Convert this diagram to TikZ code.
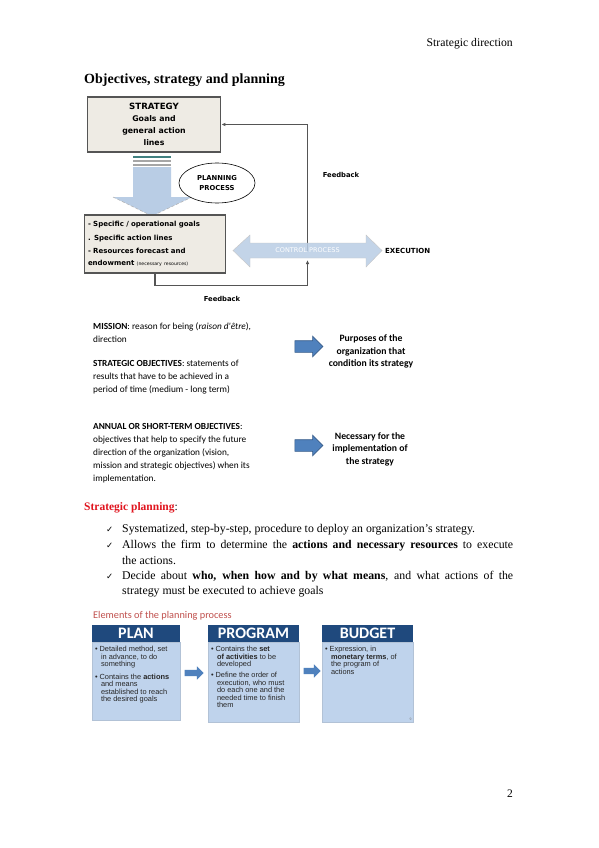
\documentclass[tikz,border=0pt]{standalone}
\usepackage{fontspec}
\setmainfont{Liberation Serif}
\newfontfamily\calibri{Carlito}
\newfontfamily\arial{Liberation Sans}
\newfontfamily\symb{DejaVu Sans}
\usetikzlibrary{arrows.meta,calc,positioning,shapes.geometric,shapes.arrows}

\definecolor{boxgray}{HTML}{EEEBE4}
\definecolor{edgegray}{HTML}{555555}
\definecolor{paleblue}{HTML}{B9CDE5}
\definecolor{midblue}{HTML}{4F81BD}
\definecolor{darkblue}{HTML}{385D8A}
\definecolor{hdrblue}{HTML}{1F497D}
\definecolor{bodyblue}{HTML}{BFD3EC}
\definecolor{elemred}{HTML}{C0504D}
\definecolor{titlered}{HTML}{E0141E}

\newcommand{\ind}{\hspace*{6pt}}

\tikzset{
  graybox/.style={draw=edgegray, line width=1.6pt, fill=boxgray},
  fback/.style={draw=edgegray, line width=1.2pt, -{Latex[length=4pt,width=3.5pt]}},
  fblabel/.style={font=\symb\bfseries\fontsize{6.8}{8}\selectfont},
  sidetext/.style={font=\calibri\fontsize{9.3}{13}\selectfont, align=left, inner sep=0pt},
  purpose/.style={font=\calibri\bfseries\fontsize{9.7}{12.5}\selectfont, align=center},
  bluearrow/.style={single arrow, draw=darkblue, fill=midblue, line width=0.6pt,
    inner sep=5.5pt, single arrow head extend=4.5pt, minimum height=28pt},
  blockarrow/.style={single arrow, fill=midblue, inner sep=3pt,
    single arrow head extend=3.5pt, minimum height=19pt},
  bodyline/.style={font=\fontsize{11.8}{15}\selectfont, anchor=base west, inner sep=0pt},
  tick/.style={font=\symb\fontsize{8.5}{10}\selectfont, anchor=base west, inner sep=0pt},
  hdr/.style={fill=hdrblue, text=white, font=\calibri\bfseries\fontsize{16}{16}\selectfont,
    minimum height=17pt, inner sep=0pt},
  bodybox/.style={fill=bodyblue, draw=bodyblue!80!gray, line width=0.4pt, anchor=north},
  bodytext/.style={font=\arial\fontsize{7.4}{7.5}\selectfont, align=left, inner sep=0pt,
    anchor=north west, text=black!85}
}

\begin{document}
\begin{tikzpicture}[x=1pt,y=-1pt]
\useasboundingbox (0,0) rectangle (599,848);
\fill[white] (0,0) rectangle (599,848);

% Running head and title
\node[anchor=base east, inner sep=0pt, font=\fontsize{11.7}{13}\selectfont] (head) at (513,47) {Strategic direction};
\node[anchor=base west, inner sep=0pt, font=\bfseries\fontsize{14}{16}\selectfont] (title) at (84,84) {Objectives, strategy and planning};

% Strategy box
\node[graybox, minimum width=133pt, minimum height=55pt, align=center,
  font=\symb\bfseries\fontsize{7.8}{12}\selectfont] (strategy) at (154,124.5)
  {{\fontsize{8.6}{12}\selectfont STRATEGY}\\Goals and\\general action\\lines};

% Planning arrow (down)
\draw[line width=1.3pt, color=teal!50!gray] (133,157) -- (171,157);
\draw[line width=1.3pt, color=gray!70] (133,161) -- (171,161);
\draw[line width=1.3pt, color=gray!70] (133,165) -- (171,165);
\fill[paleblue] (133,167) -- (171,167) -- (171,197) -- (192,197) -- (152,216)
  -- (113,197) -- (133,197) -- cycle;
\draw[densely dashed, color=gray!60, line width=0.5pt] (113,197) -- (152,216) -- (192,197);

% Planning process ellipse
\node[ellipse, draw, fill=white, line width=0.6pt, minimum width=76pt, minimum height=40pt,
  inner sep=0pt, align=center, font=\symb\bfseries\fontsize{6.8}{10}\selectfont] (planning)
  at (217,183) {PLANNING\\PROCESS};

% Operational box
\node[graybox, minimum width=138pt, minimum height=58pt, text width=134pt, align=left,
  font=\symb\bfseries\fontsize{7}{12.5}\selectfont] (operational) at (155,244)
  {- Specific / operational goals\\[1.5pt]
   . Specific action lines\\[0.5pt]
   - Resources forecast and\\
   endowment {\mdseries\fontsize{4.6}{6}\selectfont (necessary resources)}};

% Control process
\coordinate (control) at (307.5,250.5);
\draw[fback] (control) |- (strategy.east);
\draw[fback] (operational.south) -- ++(0,12) -| ($(control)+(0,9.5)$);
\fill[paleblue, fill opacity=0.85] (233,250.5) -- (250,235) -- (250,243) -- (366,243)
  -- (366,235) -- (382,250.5) -- (366,267) -- (366,258) -- (250,258) -- (250,267) -- cycle;
\draw[gray!45, line width=0.4pt] (233,250.5) -- (250,235) -- (250,243) -- (366,243)
  -- (366,235) -- (382,250.5) -- (366,267) -- (366,258) -- (250,258) -- (250,267) -- cycle;
\node[text=white, font=\symb\fontsize{6.5}{7}\selectfont] (ctext) at (control) {CONTROL PROCESS};
\node[anchor=west, inner sep=0pt, font=\symb\bfseries\fontsize{7}{8}\selectfont] (execution)
  at (385,251) {EXECUTION};

% Feedback labels
\node[fblabel] (fb1) at (341,175) {Feedback};
\node[fblabel] (fb2) at (222,299) {Feedback};

% Mission and strategic objectives
\node[sidetext, anchor=north west] (mission) at (93,322)
  {\textbf{MISSION}: reason for being (\textit{raison d'être}),\\direction};
\node[sidetext, anchor=north west] (stratobj) at (93,360)
  {\textbf{STRATEGIC OBJECTIVES}: statements of\\results that have to be achieved in a\\period of time (medium - long term)};
\node[bluearrow] (arrA) at (306,346.5) {};
\node[purpose] (purposes) at (371,351.5) {Purposes of the\\organization that\\condition its strategy};

% Annual objectives
\node[sidetext, anchor=north west] (annual) at (93,423)
  {\textbf{ANNUAL OR SHORT-TERM OBJECTIVES}:\\objectives that help to specify the future\\direction of the organization (vision,\\mission and strategic objectives) when its\\implementation.};
\node[bluearrow] (arrB) at (306,445.5) {};
\node[purpose] (necessary) at (370,449) {Necessary for the\\implementation of\\the strategy};

% Strategic planning
\node[anchor=base west, inner sep=0pt, font=\fontsize{11.5}{14}\selectfont] (sp) at (84,510)
  {\textbf{\textcolor{titlered}{Strategic planning}}:};
\node[tick] (t1) at (106,532) {✓};
\node[bodyline] (l1) at (122,532) {Systematized, step-by-step, procedure to deploy an organization's strategy.};
\node[tick] (t2) at (106,548) {✓};
\node[bodyline] (l2) at (122,548)
  {\makebox[391pt][s]{Allows the firm to determine the \textbf{actions and necessary resources} to execute}};
\node[bodyline] (l3) at (122,564) {the actions.};
\node[tick] (t3) at (106,579) {✓};
\node[bodyline] (l4) at (122,579)
  {\makebox[391pt][s]{Decide about \textbf{who, when how and by what means}, and what actions of the}};
\node[bodyline] (l5) at (122,594) {strategy must be executed to achieve goals};

% Elements of the planning process
\node[anchor=base west, inner sep=0pt, text=elemred, font=\calibri\fontsize{10.3}{12}\selectfont] (elements)
  at (93,618) {Elements of the planning process};

\node[bodybox, minimum width=88pt, minimum height=78pt] (planbody) at (136,642) {};
\node[hdr, minimum width=88pt] (plan) at (136,633.5) {PLAN};
\node[bodytext] (plantext) at ([xshift=3pt,yshift=-4pt]planbody.north west)
  {\textbullet\ Detailed method, set\\\ind in advance, to do\\\ind something\\[5pt]
   \textbullet\ Contains the \textbf{actions}\\\ind and means\\\ind established to reach\\\ind the desired goals};

\node[bodybox, minimum width=91pt, minimum height=80pt] (programbody) at (253.5,642) {};
\node[hdr, minimum width=91pt] (program) at (253.5,633.5) {PROGRAM};
\node[bodytext] (programtext) at ([xshift=3pt,yshift=-4pt]programbody.north west)
  {\textbullet\ Contains the \textbf{set}\\\ind \textbf{of activities} to be\\\ind developed\\[3.5pt]
   \textbullet\ Define the order of\\\ind execution, who must\\\ind do each one and the\\\ind needed time to finish\\\ind them};

\node[bodybox, minimum width=91pt, minimum height=80pt] (budgetbody) at (367.5,642) {};
\node[hdr, minimum width=91pt] (budget) at (367.5,633.5) {BUDGET};
\node[bodytext] (budgettext) at ([xshift=3pt,yshift=-4pt]budgetbody.north west)
  {\textbullet\ Expression, in\\\ind \textbf{monetary terms}, of\\\ind the program of\\\ind actions};
\node[anchor=south east, inner sep=1.5pt, text=gray, font=\arial\fontsize{3.5}{4}\selectfont] (slide)
  at (budgetbody.south east) {9};

\node[blockarrow] (a1) at (192.5,673) {};
\node[blockarrow, minimum height=17pt] (a2) at (310.5,671) {};

% Page number
\node[anchor=base, inner sep=0pt, font=\fontsize{11.5}{13}\selectfont] (page) at (510,797) {2};
\end{tikzpicture}
\end{document}
